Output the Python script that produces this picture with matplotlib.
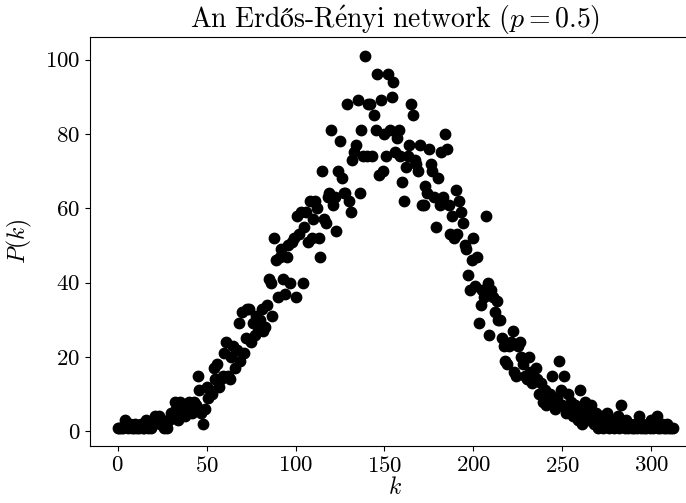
import matplotlib
matplotlib.use('Agg')
import matplotlib.pyplot as plt
import numpy as np

# degree k and number of nodes with that degree
degree = np.arange(313)
counts = [
    1, 1, 1, 1, 3, 2, 1, 2, 1, 1,
    2, 1, 1, 2, 1, 1, 3, 1, 2, 1,
    2, 4, 3, 4, 2, 3, 1, 2, 1, 3,
    5, 4, 8, 6, 3, 8, 6, 5, 4, 7,
    8, 6, 5, 8, 7, 15, 11, 5, 2, 6,
    12, 9, 11, 10, 17, 14, 18, 12, 14, 15,
    21, 24, 15, 14, 20, 23, 17, 22, 29, 19,
    32, 21, 25, 33, 33, 24, 29, 26, 31, 28,
    30, 33, 27, 28, 34, 41, 40, 31, 52, 46,
    36, 47, 49, 41, 37, 47, 50, 40, 51, 52,
    36, 58, 53, 59, 40, 55, 59, 51, 62, 52,
    57, 62, 60, 52, 47, 70, 57, 56, 63, 64,
    81, 61, 63, 54, 70, 78, 68, 64, 64, 88,
    62, 59, 73, 75, 77, 89, 64, 81, 74, 101,
    74, 88, 88, 74, 85, 81, 96, 69, 89, 70,
    80, 74, 96, 81, 90, 94, 75, 79, 81, 74,
    67, 62, 71, 74, 77, 88, 85, 73, 72, 70,
    77, 61, 61, 66, 64, 76, 72, 70, 63, 55,
    68, 61, 75, 63, 80, 76, 61, 53, 58, 52,
    65, 53, 62, 59, 56, 50, 49, 42, 38, 46,
    52, 39, 47, 29, 34, 38, 36, 58, 40, 26,
    38, 36, 32, 35, 30, 30, 25, 23, 19, 18,
    23, 24, 27, 16, 15, 23, 24, 20, 18, 15,
    14, 20, 16, 13, 14, 17, 14, 10, 13, 8,
    11, 7, 9, 10, 15, 8, 6, 9, 19, 11,
    7, 15, 5, 10, 6, 8, 4, 7, 6, 3,
    11, 2, 5, 8, 3, 6, 7, 4, 2, 5,
    1, 3, 4, 1, 2, 5, 1, 3, 2, 1,
    2, 4, 1, 7, 2, 1, 3, 1, 2, 1,
    1, 2, 1, 4, 1, 2, 1, 1, 2, 1,
    3, 1, 2, 4, 1, 1, 2, 1, 1, 2,
    1, 1, 1,
]

plt.rcParams['font.family'] = ['cmr10', 'DejaVu Serif']
plt.rcParams['mathtext.fontset'] = 'cm'
plt.rcParams['axes.formatter.use_mathtext'] = True

fig = plt.figure(figsize=(6.86, 5.03), dpi=100)
ax = fig.add_axes([0.131, 0.113, 0.89, 0.813])

ax.scatter(degree, counts, s=56, color='black')
ax.set_xlim(-15.6, 327.6)
ax.set_ylim(-4, 106)

# cmr10 has no ő / é, so the title goes through mathtext
title = r'$\mathrm{An\ Erdős\text{-}R\acute{e}nyi\ network}\ (p=0.5)$'
ax.set_title(title, fontsize=20, pad=3)
ax.set_xlabel(r'$k$', fontsize=17, labelpad=1)
ax.set_ylabel(r'$P(k)$', fontsize=17, labelpad=8)
ax.tick_params(labelsize=16.5)

fig.savefig('out.png', dpi=100)
